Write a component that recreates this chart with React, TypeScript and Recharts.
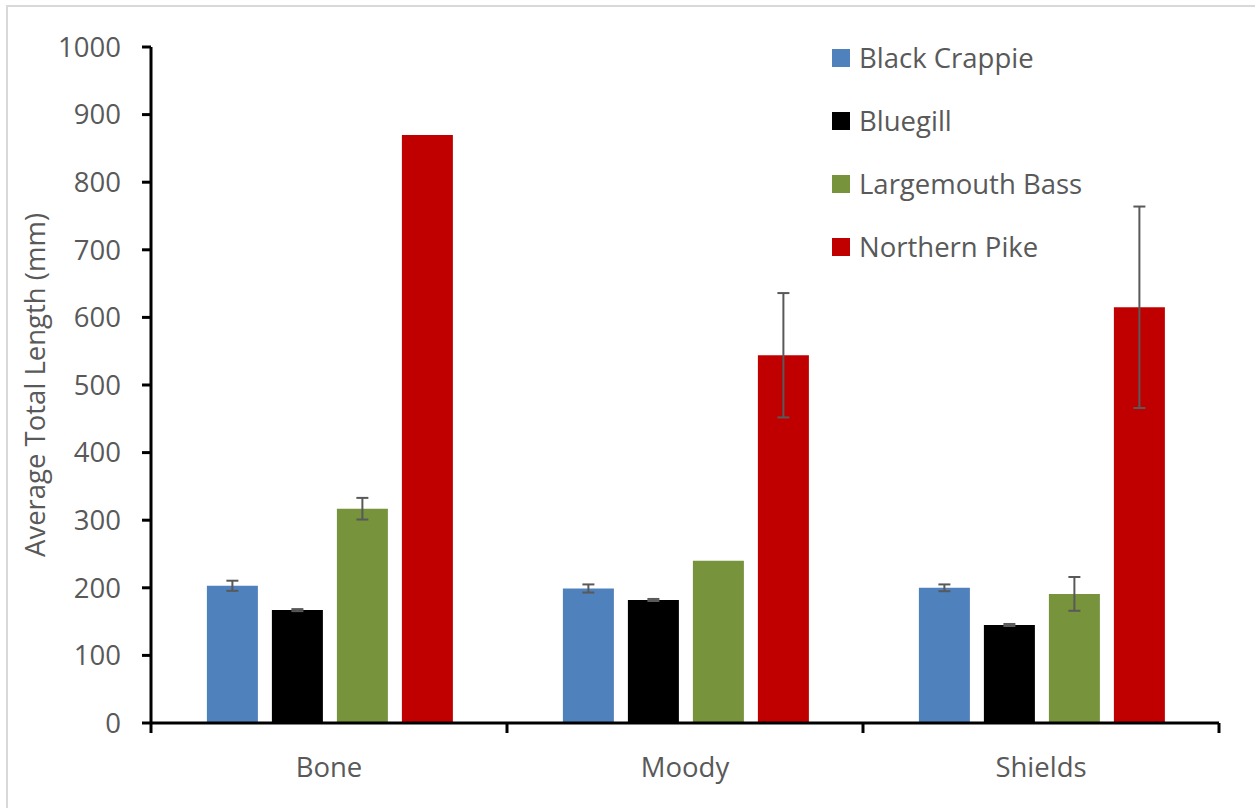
import { BarChart, Bar, XAxis, YAxis, ErrorBar, Legend } from 'recharts';

const categories = ['Bone', 'Moody', 'Shields'];
const blackCrappie = [203, 199, 200];
const blackCrappieErr = [7.5, 6, 5];
const bluegill = [167, 182, 145];
const bluegillErr = [1.5, 1.5, 1.5];
const largemouthBass = [317, 240, 191];
const largemouthBassErr: (number | null)[] = [16, null, 25];
const northernPike = [870, 544, 615];
const northernPikeErr: (number | null)[] = [null, 92, 149];
const yTicks = [0, 100, 200, 300, 400, 500, 600, 700, 800, 900, 1000];

const SERIES = [
  { key: 'bc', name: 'Black Crappie', color: '#4F81BD' },
  { key: 'bg', name: 'Bluegill', color: '#000000' },
  { key: 'lmb', name: 'Largemouth Bass', color: '#77933C' },
  { key: 'np', name: 'Northern Pike', color: '#C00000' },
];

const data = categories.map((site, i) => ({
  site,
  bc: blackCrappie[i],
  bcErr: blackCrappieErr[i],
  bg: bluegill[i],
  bgErr: bluegillErr[i],
  lmb: largemouthBass[i],
  lmbErr: largemouthBassErr[i],
  np: northernPike[i],
  npErr: northernPikeErr[i],
}));

const FONT = '"Open Sans", sans-serif';
const TEXT = '#595959';
const SIZE = 27.5;

// ticks sit on the category edges, label in the middle
function SiteTick(props: any) {
  const { x, y, payload, index } = props;
  const half = payload?.offset || 178;
  return (
    <g>
      <line x1={x - half} y1={y} x2={x - half} y2={y + 10} stroke="#000" strokeWidth={3} />
      {index === categories.length - 1 && (
        <line x1={x + half} y1={y} x2={x + half} y2={y + 10} stroke="#000" strokeWidth={3} />
      )}
      <text x={x} y={y + 54} textAnchor="middle" fill={TEXT} fontSize={SIZE} fontFamily={FONT}>
        {payload.value}
      </text>
    </g>
  );
}

function LegendList({ payload }: any) {
  return (
    <div style={{ fontFamily: FONT, fontSize: SIZE, color: TEXT }}>
      {(payload || []).map((p: any) => (
        <div key={p.value} style={{ display: 'flex', alignItems: 'center', height: 63 }}>
          <span style={{ width: 18, height: 18, background: p.color, marginRight: 9 }} />
          <span>{p.value}</span>
        </div>
      ))}
    </div>
  );
}

export default function App() {
  return (
    <div style={{ position: 'absolute', left: 0, top: 0, width: 1255, height: 808, background: '#fff', overflow: 'hidden' }}>
      <div
        style={{
          position: 'absolute',
          left: 6,
          top: 5,
          width: 1260,
          height: 820,
          borderLeft: '2px solid #d9d9d9',
          borderTop: '2px solid #d9d9d9',
        }}
      />
      <BarChart
        width={1255}
        height={808}
        data={data}
        margin={{ top: 47, right: 36, left: 0, bottom: 0 }}
        barCategoryGap="15.7%"
        barGap={14}
        style={{ position: 'absolute', left: 0, top: 0 }}
      >
        <XAxis
          dataKey="site"
          height={85}
          axisLine={{ stroke: '#000', strokeWidth: 3 }}
          tickLine={false}
          tickSize={0}
          tickMargin={0}
          tick={<SiteTick />}
          interval={0}
        />
        <YAxis
          width={151}
          domain={[0, 1000]}
          ticks={yTicks}
          interval={0}
          axisLine={{ stroke: '#000', strokeWidth: 3 }}
          tickLine={{ stroke: '#000', strokeWidth: 3 }}
          tickSize={9}
          tickMargin={21}
          tick={{ fill: TEXT, fontSize: SIZE, fontFamily: FONT }}
          label={{
            value: 'Average Total Length (mm)',
            angle: -90,
            position: 'insideLeft',
            offset: 35,
            style: { fill: TEXT, fontSize: SIZE, fontFamily: FONT, textAnchor: 'middle' },
          }}
        />
        <Legend
          layout="horizontal"
          verticalAlign="middle"
          align="center"
          content={<LegendList />}
          wrapperStyle={{ position: 'absolute', left: 832, top: 26, width: 320, height: 260 }}
        />
        {SERIES.map((s) => (
          <Bar key={s.key} dataKey={s.key} name={s.name} fill={s.color} isAnimationActive={false}>
            <ErrorBar dataKey={`${s.key}Err`} width={6} stroke="#595959" strokeWidth={2} direction="y" />
          </Bar>
        ))}
      </BarChart>
    </div>
  );
}
